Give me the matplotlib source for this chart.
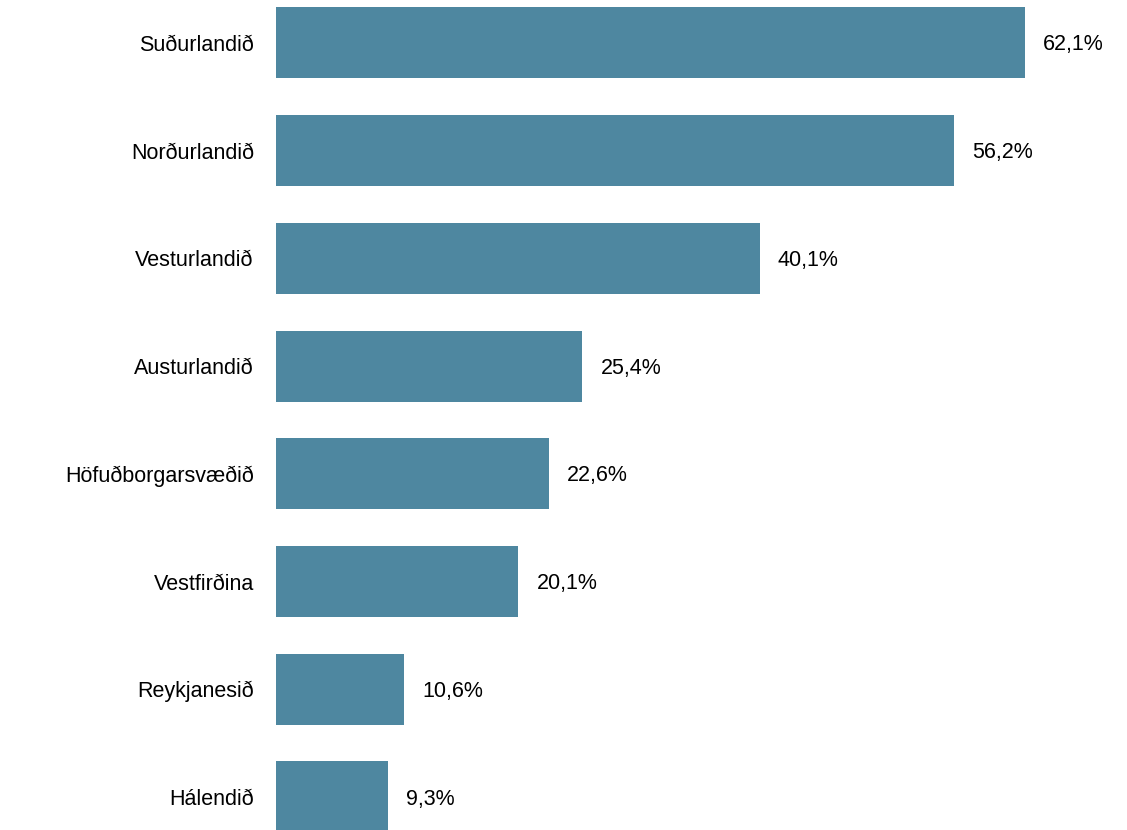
import matplotlib
matplotlib.use("Agg")
import matplotlib.pyplot as plt

# Gögn
regions = ["Suðurlandið", "Norðurlandið", "Vesturlandið", "Austurlandið",
           "Höfuðborgarsvæðið", "Vestfirðina", "Reykjanesið", "Hálendið"]
values = [62.1, 56.2, 40.1, 25.4, 22.6, 20.1, 10.6, 9.3]
labels = ["62,1%", "56,2%", "40,1%", "25,4%", "22,6%", "20,1%", "10,6%", "9,3%"]

plt.rcParams["font.family"] = ["Liberation Sans", "DejaVu Sans"]

fig = plt.figure(figsize=(11.27, 8.30), dpi=100)
ax = fig.add_axes([276 / 1127, 0, 1 - 276 / 1127, 1])

pos = list(range(len(regions)))
ax.barh(pos, values, height=0.66, color="#4E87A0")

for p, v, t in zip(pos, values, labels):
    ax.annotate(t, (v, p), xytext=(13, -1.5), textcoords="offset points",
                ha="left", va="center", fontsize=15.5, color="black")

ax.set_xlim(0, (1127 - 276) / 12.06)
ax.set_ylim(7.306, -0.398)
ax.set_yticks(pos)
ax.set_yticklabels(regions, fontsize=15.5, color="black")
ax.tick_params(axis="y", length=0, pad=16)
ax.set_xticks([])
for s in ax.spines.values():
    s.set_visible(False)

fig.savefig("out.png", dpi=100)
